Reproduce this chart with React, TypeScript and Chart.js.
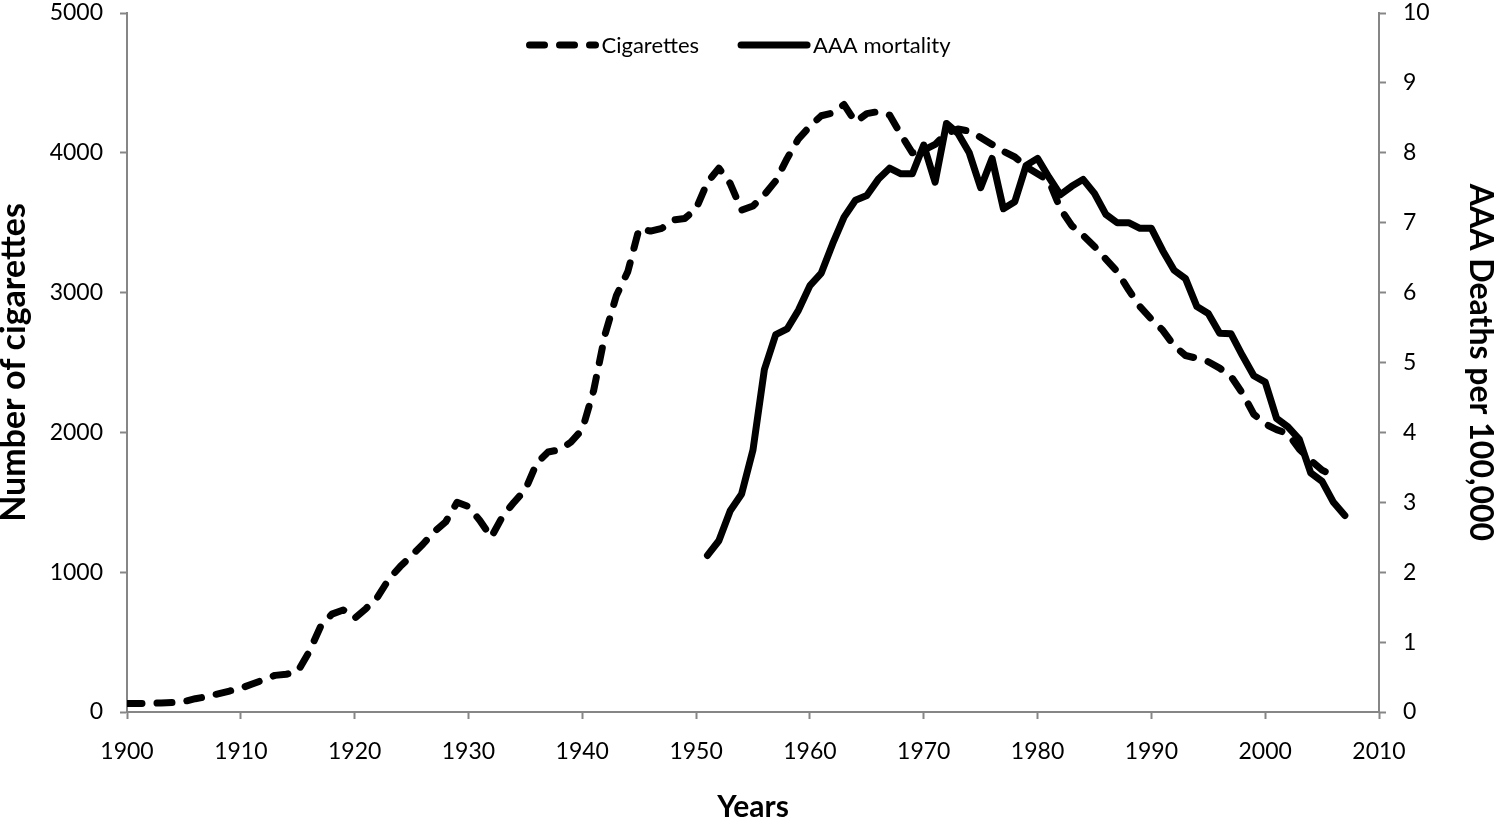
import React, { useEffect, useRef } from 'react';
import { Chart, registerables } from 'chart.js';

Chart.register(...registerables);

const FONT = 'Lato, "Open Sans", "DejaVu Sans", sans-serif';

// Cigarette consumption per adult, 1900-2006
const cigaretteYears = [
  1900, 1901, 1902, 1903, 1904, 1905, 1906, 1907, 1908, 1909,
  1910, 1911, 1912, 1913, 1914, 1915, 1916, 1917, 1918, 1919,
  1920, 1921, 1922, 1923, 1924, 1925, 1926, 1927, 1928, 1929,
  1930, 1931, 1932, 1933, 1934, 1935, 1936, 1937, 1938, 1939,
  1940, 1941, 1942, 1943, 1944, 1945, 1946, 1947, 1948, 1949,
  1950, 1951, 1952, 1953, 1954, 1955, 1956, 1957, 1958, 1959,
  1960, 1961, 1962, 1963, 1964, 1965, 1966, 1967, 1968, 1969,
  1970, 1971, 1972, 1973, 1974, 1975, 1976, 1977, 1978, 1979,
  1980, 1981, 1982, 1983, 1984, 1985, 1986, 1987, 1988, 1989,
  1990, 1991, 1992, 1993, 1994, 1995, 1996, 1997, 1998, 1999,
  2000, 2001, 2002, 2003, 2004, 2005, 2006,
];
const cigaretteValues = [
  60, 60, 62, 65, 68, 75, 95, 110, 130, 150,
  170, 200, 230, 262, 270, 290, 430, 610, 700, 730,
  670, 740, 820, 950, 1040, 1120, 1200, 1290, 1360, 1500,
  1470, 1370, 1250, 1400, 1500, 1590, 1780, 1860, 1875, 1930,
  2020, 2300, 2700, 2980, 3150, 3460, 3440, 3460, 3520, 3530,
  3600, 3790, 3890, 3780, 3590, 3620, 3700, 3800, 3960, 4100,
  4190, 4265, 4285, 4345, 4220, 4280, 4295, 4270, 4130, 4000,
  4020, 4060, 4140, 4170, 4155, 4110, 4060, 4010, 3970, 3900,
  3850, 3800, 3600, 3480, 3410, 3330, 3240, 3150, 3020, 2900,
  2810, 2730, 2620, 2550, 2530, 2505, 2460, 2400, 2280, 2130,
  2060, 2020, 1990, 1880, 1800, 1730, 1690,
];

// AAA mortality (deaths per 100,000), 1951-2007
const aaaYears = [
  1951, 1952, 1953, 1954, 1955, 1956, 1957, 1958, 1959,
  1960, 1961, 1962, 1963, 1964, 1965, 1966, 1967, 1968, 1969,
  1970, 1971, 1972, 1973, 1974, 1975, 1976, 1977, 1978, 1979,
  1980, 1981, 1982, 1983, 1984, 1985, 1986, 1987, 1988, 1989,
  1990, 1991, 1992, 1993, 1994, 1995, 1996, 1997, 1998, 1999,
  2000, 2001, 2002, 2003, 2004, 2005, 2006, 2007,
];
const aaaValues = [
  2.24, 2.45, 2.88, 3.12, 3.75, 4.9, 5.4, 5.48, 5.75,
  6.1, 6.28, 6.7, 7.08, 7.32, 7.39, 7.62, 7.78, 7.7, 7.7,
  8.11, 7.58, 8.42, 8.28, 8.0, 7.5, 7.92, 7.2, 7.3, 7.82,
  7.92, 7.65, 7.4, 7.52, 7.62, 7.42, 7.12, 7.0, 7.0, 6.92,
  6.92, 6.6, 6.32, 6.2, 5.8, 5.7, 5.42, 5.41, 5.1, 4.81,
  4.72, 4.2, 4.08, 3.9, 3.42, 3.3, 3.0, 2.81,
];

const seriesLabels = ['Cigarettes', 'AAA mortality'];
const xTickMin = 1900;
const xTickMax = 2010;
const leftMax = 5000;
const rightMax = 10;

const AXIS_COLOR = '#868686';

const topLegend = {
  id: 'topLegend',
  afterDatasetsDraw(chart: any) {
    const { ctx, chartArea } = chart;
    ctx.save();
    ctx.font = `22px ${FONT}`;
    const sampleW = 74;
    const textGap = 2;
    const itemGap = 38;
    const items = chart.data.datasets.map((ds: any) => ({
      ds,
      w: sampleW + textGap + ctx.measureText(ds.label).width,
    }));
    const total = items.reduce((s: number, it: any) => s + it.w, 0) + itemGap * (items.length - 1);
    let x = (chartArea.left + chartArea.right) / 2 - total / 2 - 15;
    const y = chartArea.top + 32;
    items.forEach(({ ds, w }: any) => {
      ctx.beginPath();
      ctx.lineWidth = ds.borderWidth;
      ctx.strokeStyle = ds.borderColor;
      ctx.lineCap = 'round';
      ctx.setLineDash(ds.borderDash || []);
      ctx.moveTo(x + 4, y);
      ctx.lineTo(x + sampleW - 4, y);
      ctx.stroke();
      ctx.setLineDash([]);
      ctx.fillStyle = '#000';
      ctx.textBaseline = 'middle';
      ctx.textAlign = 'left';
      ctx.fillText(ds.label, x + sampleW + textGap, y + 1);
      x += w + itemGap;
    });
    ctx.restore();
  },
};

export default function App() {
  const ref = useRef<HTMLCanvasElement>(null);

  useEffect(() => {
    document.body.style.margin = '0';
    const cigData = cigaretteYears.map((yr, i) => ({ x: yr, y: cigaretteValues[i] }));
    const aaaData = aaaYears.map((yr, i) => ({ x: yr, y: aaaValues[i] }));

    const tickCommon = {
      color: '#000',
      font: { family: FONT, size: 23 },
    };
    const gridCommon = {
      drawOnChartArea: false,
      drawTicks: true,
      tickLength: 7,
      tickColor: AXIS_COLOR,
      tickWidth: 2,
    };
    const borderCommon = { color: AXIS_COLOR, width: 2 };

    const chart = new Chart(ref.current as HTMLCanvasElement, {
      type: 'line',
      data: {
        datasets: [
          {
            label: seriesLabels[0],
            data: cigData,
            yAxisID: 'y',
            borderColor: '#000',
            backgroundColor: '#000',
            borderWidth: 7,
            borderDash: [15, 15],
            borderCapStyle: 'round',
            borderJoinStyle: 'round',
            pointRadius: 0,
            tension: 0,
            fill: false,
          },
          {
            label: seriesLabels[1],
            data: aaaData,
            yAxisID: 'y2',
            borderColor: '#000',
            backgroundColor: '#000',
            borderWidth: 7,
            borderCapStyle: 'round',
            borderJoinStyle: 'round',
            pointRadius: 0,
            tension: 0,
            fill: false,
          },
        ],
      },
      options: {
        animation: false,
        responsive: true,
        maintainAspectRatio: false,
        layout: { padding: { top: 13, left: 0, right: 0, bottom: 0 } },
        plugins: {
          legend: { display: false },
          tooltip: { enabled: false },
        },
        scales: {
          x: {
            type: 'linear',
            min: xTickMin,
            max: xTickMax,
            ticks: {
              ...tickCommon,
              stepSize: 10,
              padding: 19,
              maxRotation: 0,
              callback: (v: any) => String(v),
            },
            grid: gridCommon,
            border: borderCommon,
            title: {
              display: true,
              text: 'Years',
              color: '#000',
              font: { family: FONT, size: 30, weight: 'bold', lineHeight: 1 },
              padding: 0,
            },
            afterFit: (s: any) => {
              s.height = 110;
              s.paddingLeft = 0;
              s.paddingRight = 0;
            },
          },
          y: {
            type: 'linear',
            position: 'left',
            min: 0,
            max: leftMax,
            ticks: {
              ...tickCommon,
              stepSize: 1000,
              padding: 17,
              callback: (v: any) => String(v),
            },
            grid: gridCommon,
            border: borderCommon,
            title: {
              display: true,
              text: 'Number of cigarettes',
              color: '#000',
              font: { family: FONT, size: 34, weight: 'bold', lineHeight: 0.8 },
              padding: 0,
            },
            afterFit: (s: any) => {
              s.width = 127;
              s.paddingTop = 0;
              s.paddingBottom = 0;
            },
          },
          y2: {
            type: 'linear',
            position: 'right',
            min: 0,
            max: rightMax,
            ticks: {
              ...tickCommon,
              stepSize: 1,
              padding: 17,
              callback: (v: any) => String(v),
            },
            grid: gridCommon,
            border: borderCommon,
            title: {
              display: true,
              text: 'AAA Deaths per 100,000',
              color: '#000',
              font: { family: FONT, size: 32, weight: 'bold', lineHeight: 0.9 },
              padding: 0,
            },
            afterFit: (s: any) => {
              s.width = 116;
              s.paddingTop = 0;
              s.paddingBottom = 0;
            },
          },
        },
      },
      plugins: [topLegend],
    } as any);

    return () => chart.destroy();
  }, []);

  return (
    <div style={{ position: 'relative', width: 1495, height: 822 }}>
      <canvas ref={ref} />
    </div>
  );
}
